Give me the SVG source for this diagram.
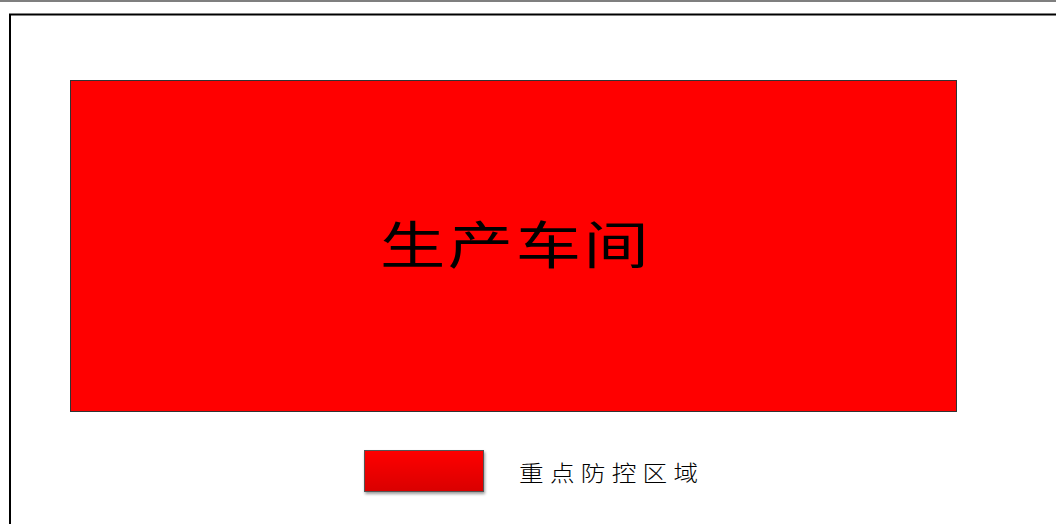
<svg xmlns="http://www.w3.org/2000/svg" width="1056" height="524" viewBox="0 0 1056 524">
<style>
.cjk{font-family:"Noto Sans CJK SC","Noto Sans CJK JP",sans-serif;fill:#000}
</style>
<defs>
<linearGradient id="lg" x1="0" y1="0" x2="0" y2="1">
<stop offset="0" stop-color="#ff0000"/>
<stop offset="1" stop-color="#d90000"/>
</linearGradient>
<filter id="sh" x="-10%" y="-20%" width="130%" height="160%">
<feGaussianBlur in="SourceAlpha" stdDeviation="1.5"/>
<feOffset dx="1" dy="2" result="b"/>
<feComponentTransfer><feFuncA type="linear" slope="0.4"/></feComponentTransfer>
<feMerge><feMergeNode/><feMergeNode in="SourceGraphic"/></feMerge>
</filter>
</defs>
<rect width="1056" height="524" fill="#fff"/>
<line x1="0" y1="1" x2="1056" y2="1" stroke="#555" stroke-width="1.5"/>
<path d="M10 530 V14.5 H1060" fill="none" stroke="#000" stroke-width="2"/>
<g id="workshop">
<rect x="70.5" y="80.5" width="886" height="331" fill="#ff0000" stroke="#333" stroke-width="1"/>
<text class="cjk" transform="translate(380,264) scale(1.28,1)" x="0" y="0" font-size="51" font-weight="400" letter-spacing="2">生产车间</text>
</g>
<g id="legend">
<rect x="364.5" y="450.5" width="119" height="41" fill="url(#lg)" stroke="#555" stroke-width="1" filter="url(#sh)"/>
<text class="cjk" transform="translate(519,481) scale(1.12,1)" x="0" y="0" font-size="22" font-weight="300" letter-spacing="5.6">重点防控区域</text>
</g>
</svg>
